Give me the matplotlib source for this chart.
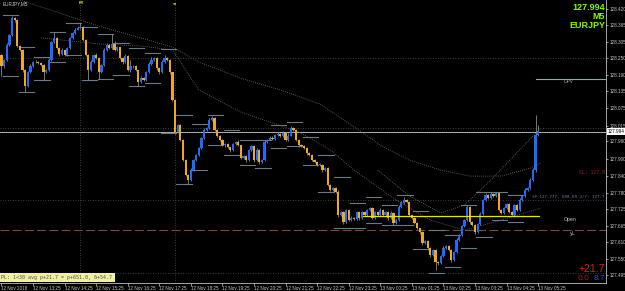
import matplotlib
matplotlib.use("Agg")
import matplotlib.pyplot as plt
import numpy as np

# ---------------- data ----------------
first_open = 128.261
closes = [
    128.222, 128.243, 128.295, 128.330, 128.389, 128.382, 128.292, 128.278, 128.208, 128.153,
    128.201, 128.222, 128.236, 128.236, 128.233, 128.226, 128.201, 128.208, 128.243, 128.306,
    128.320, 128.285, 128.264, 128.278, 128.261, 128.285, 128.320, 128.337, 128.348, 128.355,
    128.358, 128.313, 128.261, 128.208, 128.236, 128.261, 128.250, 128.201, 128.226, 128.278,
    128.295, 128.285, 128.299, 128.278, 128.288, 128.250, 128.236, 128.257, 128.208, 128.222,
    128.222, 128.208, 128.167, 128.180, 128.174, 128.201, 128.229, 128.243, 128.250, 128.215,
    128.201, 128.236, 128.250, 128.243, 128.201, 128.104, 127.993, 128.017, 127.965, 127.895,
    127.843, 127.825, 127.860, 127.895, 127.912, 127.937, 127.972, 127.999, 128.006, 128.034,
    128.041, 127.999, 127.979, 127.965, 127.947, 127.951, 127.940, 127.930, 127.951, 127.958,
    127.947, 127.902, 127.909, 127.895, 127.930, 127.944, 127.895, 127.930, 127.888, 127.895,
    127.958, 127.965, 127.972, 127.968, 127.982, 127.986, 127.979, 127.989, 127.965, 127.979,
    128.006, 127.999, 127.965, 127.947, 127.944, 127.937, 127.919, 127.912, 127.895, 127.888,
    127.878, 127.878, 127.860, 127.867, 127.808, 127.791, 127.798, 127.784, 127.704, 127.714,
    127.679, 127.721, 127.686, 127.693, 127.690, 127.714, 127.693, 127.714, 127.704, 127.721,
    127.728, 127.693, 127.714, 127.704, 127.721, 127.704, 127.714, 127.693, 127.711, 127.676,
    127.686, 127.731, 127.745, 127.756, 127.749, 127.704, 127.693, 127.676, 127.658, 127.644,
    127.606, 127.613, 127.589, 127.564, 127.582, 127.540, 127.537, 127.561, 127.589, 127.596,
    127.582, 127.547, 127.575, 127.617, 127.634, 127.665, 127.686, 127.731, 127.679, 127.669,
    127.644, 127.672, 127.707, 127.756, 127.773, 127.763, 127.777, 127.770, 127.780, 127.721,
    127.711, 127.728, 127.742, 127.714, 127.704, 127.738, 127.721, 127.756, 127.770, 127.791,
    127.798, 127.825, 127.860, 127.982, 127.996,
]
# upper / lower wick lengths in points (0.001)
wick_up = [
    4, 3, 6, 5, 9, 4, 3, 2, 5, 3,
    4, 6, 3, 8, 5, 2, 4, 3, 6, 5,
    21, 2, 4, 6, 3, 5, 4, 3, 6, 8,
    14, 3, 2, 4, 6, 3, 5, 2, 4, 6,
    8, 3, 35, 9, 4, 2, 3, 6, 2, 20,
    5, 3, 2, 6, 3, 4, 7, 12, 5, 3,
    4, 6, 9, 5, 3, 2, 4, 3, 5, 2,
    3, 4, 6, 3, 5, 4, 3, 6, 4, 8,
    6, 3, 5, 2, 4, 3, 5, 2, 4, 3,
    6, 2, 4, 3, 5, 3, 2, 6, 3, 4,
    5, 3, 6, 8, 4, 5, 3, 6, 4, 9,
    7, 3, 4, 2, 5, 3, 2, 4, 3, 5,
    3, 6, 2, 4, 3, 5, 2, 4, 6, 3,
    5, 4, 3, 6, 2, 5, 3, 4, 2, 5,
    3, 4, 5, 3, 6, 2, 4, 3, 5, 2,
    4, 6, 8, 12, 5, 3, 2, 4, 3, 2,
    4, 3, 5, 2, 4, 3, 2, 4, 6, 3,
    5, 2, 4, 6, 3, 5, 4, 9, 4, 3,
    2, 4, 6, 5, 8, 4, 6, 3, 5, 4,
    3, 5, 4, 3, 2, 5, 3, 6, 4, 5,
    4, 6, 8, 70, 20,
]
wick_dn = [
    35, 5, 2, 4, 3, 6, 2, 4, 5, 20,
    3, 4, 2, 5, 3, 4, 28, 3, 2, 4,
    5, 3, 6, 2, 4, 3, 2, 4, 3, 2,
    3, 5, 4, 35, 3, 2, 5, 24, 4, 3,
    2, 5, 3, 4, 2, 5, 6, 3, 4, 8,
    5, 4, 14, 3, 5, 4, 3, 2, 4, 5,
    6, 3, 2, 4, 5, 4, 9, 5, 3, 4,
    5, 12, 4, 3, 5, 2, 4, 3, 2, 3,
    4, 3, 5, 4, 3, 5, 4, 6, 3, 4,
    3, 5, 4, 6, 3, 4, 8, 3, 6, 4,
    3, 4, 2, 5, 3, 2, 4, 3, 5, 3,
    2, 4, 3, 5, 4, 3, 5, 2, 4, 3,
    5, 3, 6, 4, 5, 3, 4, 5, 6, 4,
    5, 3, 4, 2, 3, 4, 5, 3, 4, 3,
    2, 4, 3, 5, 3, 4, 3, 5, 3, 6,
    5, 3, 2, 3, 4, 3, 4, 5, 4, 6,
    5, 4, 6, 5, 4, 28, 8, 4, 5, 3,
    4, 6, 3, 4, 3, 4, 3, 2, 5, 4,
    6, 3, 2, 4, 3, 4, 3, 2, 3, 5,
    4, 3, 2, 4, 3, 6, 3, 2, 3, 4,
    3, 4, 3, 5, 4,
]
# 30-minute high / low brackets (first bar of block, high, low)
box_start = [1, 7, 13, 19, 25, 31, 37, 43, 49, 55, 61, 67, 73, 79, 85, 91, 97,
             103, 109, 115, 121, 127, 133, 139, 145, 151, 157, 163, 169, 175, 181, 187, 193]
box_high = [128.400, 128.288, 128.254, 128.341, 128.372, 128.358, 128.334, 128.302, 128.285,
            128.267, 128.281, 128.052, 128.020, 128.052, 127.999, 127.965, 127.965,
            128.017, 128.027, 127.975, 127.912, 127.836, 127.745, 127.766, 127.738, 127.773,
            127.717, 127.651, 127.634, 127.738, 127.784, 127.784, 127.773]
box_low = [128.187, 128.132, 128.174, 128.236, 128.261, 128.174, 128.177, 128.191, 128.153,
           128.163, 127.989, 127.812, 127.860, 127.947, 127.912, 127.878, 127.867,
           127.937, 127.944, 127.878, 127.784, 127.658, 127.658, 127.676, 127.669, 127.669,
           127.585, 127.502, 127.522, 127.589, 127.627, 127.686, 127.679]
# time axis labels (bar index, text)
time_label_bars = [0, 12, 24, 36, 48, 60, 72, 84, 96, 108, 120, 132, 144, 156, 168, 180, 192, 204]
time_labels = ["12 Nov 2018", "12 Nov 13:25", "12 Nov 14:25", "12 Nov 15:25", "12 Nov 16:25",
               "12 Nov 17:25", "12 Nov 18:25", "12 Nov 19:25", "12 Nov 20:25", "12 Nov 21:25",
               "12 Nov 22:25", "12 Nov 23:25", "13 Nov 00:25", "13 Nov 01:25", "13 Nov 02:25",
               "13 Nov 03:25", "13 Nov 04:25", "13 Nov 05:25"]
price_ticks = [128.420, 128.365, 128.305, 128.250, 128.190, 128.135, 128.075, 128.015, 127.960,
               127.900, 127.840, 127.780, 127.725, 127.665, 127.610, 127.550, 127.495]
# indicator lines (sampled bar index, value)
ma_a_idx = [7, 22, 37, 53, 65, 75, 91, 106, 121, 133, 144, 155, 167, 178, 190, 201, 205]
ma_a_val = [128.452, 128.407, 128.361, 128.320, 128.288, 128.236, 128.180, 128.139, 128.090,
            128.017, 127.947, 127.895, 127.860, 127.839, 127.839, 127.867, 127.885]
ma_b_idx = [15, 37, 53, 65, 75, 91, 102, 113, 125, 134, 150, 163, 176, 190, 205]
ma_b_val = [128.320, 128.299, 128.292, 128.278, 128.139, 128.062, 128.027, 127.993, 127.930,
            127.860, 127.756, 127.686, 127.651, 127.686, 127.728]
ma_c_idx = [143, 155, 167, 176, 186, 195, 205]
ma_c_val = [127.860, 127.770, 127.711, 127.738, 127.825, 127.912, 128.006]
current_price = 127.994
level_dpv = 128.176
level_open = 127.699
level_yl = 127.651
dotted_levels = [128.250, 128.006, 127.756, 127.502]
open_line_start = 137.5
dpv_start = 203
separator_bars = [30, 66]

# ---------------- figure ----------------
W, H = 625, 291
fig = plt.figure(figsize=(W / 100, H / 100), dpi=100, facecolor="black")
ax = fig.add_axes([0, 8 / H, 606 / W, 283 / H])
ax.set_facecolor("black")

n = len(closes)
idx = np.arange(n)
opens = np.array([first_open] + closes[:-1])
cl = np.array(closes)
hi = np.maximum(opens, cl) + np.array(wick_up) / 1000.0
lo = np.minimum(opens, cl) - np.array(wick_dn) / 1000.0

ymax, ymin = 128.452, 127.467
ax.set_ylim(ymin, ymax)
ax.set_xlim(-0.57, 229.8)

# horizontal levels
for lv in dotted_levels:
    ax.axhline(lv, color="#505050", lw=0.6, ls=(0, (1, 2)))
ax.axhline(current_price, color="#b0b0b0", lw=0.7)
ax.axhline(level_yl, color="#7a4a40", lw=0.8, ls=(0, (8, 3)))
for sb in separator_bars:
    ax.axvline(sb, color="#505050", lw=0.6, ls=(0, (1, 2)))

# indicator lines
for xs, vs in [(ma_a_idx, ma_a_val), (ma_b_idx, ma_b_val), (ma_c_idx, ma_c_val)]:
    ax.plot(xs, vs, color="#707070", lw=0.6, ls=(0, (1, 1.5)))

# 30-minute brackets
for s, h, l in zip(box_start, box_high, box_low):
    ax.plot([s - 0.5, s + 5.3], [h, h], color="#6a7a82", lw=0.8, zorder=2)
    ax.plot([s - 0.5, s + 5.3], [l, l], color="#6a7a82", lw=0.8, zorder=2)

# candles
ax.vlines(idx, lo, hi, color="#8a8a8a", lw=0.6, zorder=3)
up = cl >= opens
body_h = np.maximum(np.abs(cl - opens), 0.0015)
body_b = np.minimum(opens, cl)
ax.bar(idx[up], body_h[up], bottom=body_b[up], width=0.85, color="#1e6cff", zorder=4, linewidth=0)
ax.bar(idx[~up], body_h[~up], bottom=body_b[~up], width=0.85, color="#f0a81e", zorder=4, linewidth=0)

# other lines
ax.plot([open_line_start, n - 0.5], [level_open, level_open], color="#e8e020", lw=0.9, zorder=5)
ax.plot([dpv_start, 229.8], [level_dpv, level_dpv], color="#80b0b0", lw=0.8)

# axes style
for s in ["left", "top"]:
    ax.spines[s].set_visible(False)
ax.spines["right"].set_color("#c0c0c0")
ax.spines["bottom"].set_color("#c0c0c0")
ax.spines["right"].set_linewidth(0.6)
ax.spines["bottom"].set_linewidth(0.6)
ax.yaxis.tick_right()
ax.set_yticks(price_ticks)
ax.set_yticklabels([f"{p:.3f}" for p in price_ticks], family="Liberation Sans")
ax.tick_params(axis="y", colors="#c8c8c8", labelsize=3.3, length=1.5, width=0.5, pad=0.8)
ax.set_xticks(time_label_bars)
ax.set_xticklabels(time_labels, family="Liberation Sans")
ax.tick_params(axis="x", colors="#c8c8c8", labelsize=3.3, length=2, width=0.5, pad=0.5)
for lbl in ax.get_xticklabels():
    lbl.set_ha("left")


def ftxt(x, y, s, **kw):
    fig.text(x / W, 1 - y / H, s, **kw)


# current price box
ftxt(607.5, 131.5, "127.994", color="black", fontsize=3.3, va="center", ha="left",
     family="Liberation Sans", bbox=dict(boxstyle="square,pad=0.15", fc="white", ec="none"))

# markers on separators
ftxt(81, 3, "M", color="#e8e020", fontsize=2.8, ha="center", va="center", fontweight="bold")
ftxt(174, 3, "\u2261", color="#e8e020", fontsize=3, ha="center", va="center")

# labels
ftxt(3, 4, "EURJPY,M5", color="#d0d0d0", fontsize=3.3, va="center", family="Liberation Sans")
ftxt(605, 7, "127.994", color="#7cfc00", fontsize=6.5, fontweight="bold", ha="right", va="center",
     family="Liberation Sans")
ftxt(605, 16.5, "M5", color="#7cfc00", fontsize=6.5, fontweight="bold", ha="right", va="center",
     family="Liberation Sans")
ftxt(605, 25, "EURJPY", color="#7cfc00", fontsize=6.5, fontweight="bold", ha="right", va="center",
     family="Liberation Sans")
ftxt(569, 81.5, "DPV", color="#a0a0a0", fontsize=3.5, ha="center", va="center")
ftxt(570, 219.5, "Open", color="#c0c0c0", fontsize=3.5, ha="center", va="center")
ftxt(573, 233, "yL", color="#c0c0c0", fontsize=3.5, ha="center", va="center")
ftxt(605, 172, "SL: 127.8", color="#a02020", fontsize=3.5, ha="right", va="center", family="DejaVu Sans Mono")
ftxt(605, 197, "tP 127.777, 608.69 2/7: 127.7", color="#6a86b0", fontsize=3.0, ha="right", va="center",
     family="DejaVu Sans Mono")
ftxt(605, 269.5, "+21.7", color="#dd2020", fontsize=7.5, ha="right", va="center", family="Liberation Sans")
ftxt(590, 278.5, "0.0", color="#b01818", fontsize=6, ha="right", va="center", family="Liberation Sans")
ftxt(605, 278.5, "8.7", color="#2050ff", fontsize=6, ha="right", va="center", family="Liberation Sans")
ftxt(1.5, 277.5, "PL: 1<30 avg p+21.7 = p+651.0, \u03b4+54.7", color="#505050", fontsize=3.6, va="center",
     family="DejaVu Sans Mono",
     bbox=dict(boxstyle="square,pad=0.45", fc="#f0f0a0", ec="none"))

fig.savefig("out.png", dpi=100, facecolor="black")
